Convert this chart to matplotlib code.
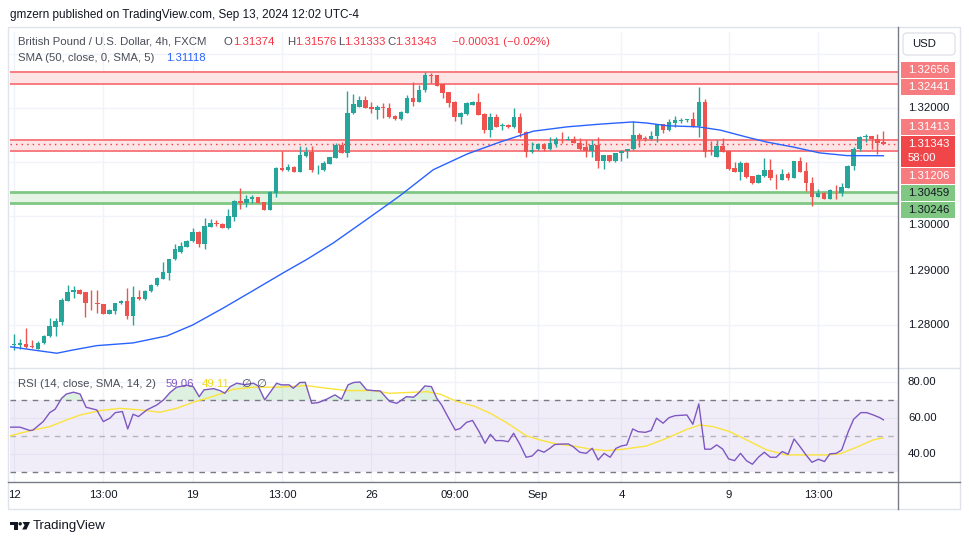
import matplotlib
matplotlib.use('Agg')
import matplotlib.pyplot as plt
from matplotlib.patches import Rectangle, Polygon, Circle, FancyBboxPatch
import numpy as np

plt.rcParams['font.family'] = ['Liberation Sans', 'DejaVu Sans']

# GBP/USD 4h candles, Aug 12 -> Sep 13 2024
opens = [1.2763, 1.2763, 1.2765, 1.2761, 1.2756, 1.2766, 1.2779, 1.2797, 1.2806, 1.2845,
         1.2860, 1.2864, 1.2860, 1.2843, 1.2841, 1.2838, 1.2821, 1.2826, 1.2840, 1.2845,
         1.2817, 1.2852, 1.2847, 1.2862, 1.2874, 1.2885, 1.2896, 1.2921, 1.2934, 1.2944,
         1.2954, 1.2972, 1.2950, 1.2981, 1.2988, 1.2986, 1.2979, 1.2999, 1.3028, 1.3024,
         1.3033, 1.3035, 1.3026, 1.3012, 1.3044, 1.3090, 1.3085, 1.3091, 1.3082, 1.3112,
         1.3119, 1.3087, 1.3086, 1.3097, 1.3108, 1.3132, 1.3117, 1.3190, 1.3202, 1.3214,
         1.3202, 1.3196, 1.3201, 1.3199, 1.3185, 1.3179, 1.3191, 1.3218, 1.3211, 1.3232,
         1.3261, 1.3260, 1.3243, 1.3229, 1.3211, 1.3184, 1.3189, 1.3206, 1.3211, 1.3189,
         1.3159, 1.3184, 1.3167, 1.3168, 1.3164, 1.3184, 1.3156, 1.3118, 1.3124, 1.3133,
         1.3124, 1.3134, 1.3143, 1.3141, 1.3143, 1.3136, 1.3127, 1.3121, 1.3132, 1.3103,
         1.3113, 1.3103, 1.3116, 1.3121, 1.3124, 1.3150, 1.3145, 1.3143, 1.3148, 1.3170,
         1.3159, 1.3173, 1.3176, 1.3178, 1.3179, 1.3167, 1.3211, 1.3122, 1.3110, 1.3130,
         1.3121, 1.3089, 1.3082, 1.3099, 1.3074, 1.3062, 1.3074, 1.3086, 1.3071, 1.3068,
         1.3079, 1.3071, 1.3102, 1.3084, 1.3062, 1.3036, 1.3044, 1.3033, 1.3049, 1.3044,
         1.3053, 1.3092, 1.3124, 1.3147, 1.3148, 1.3142, 1.31374]
highs = [1.2783, 1.2775, 1.2795, 1.2772, 1.2771, 1.2781, 1.2813, 1.2813, 1.2849, 1.2873,
         1.2871, 1.2866, 1.2861, 1.2864, 1.2864, 1.2839, 1.2829, 1.2841, 1.2846, 1.2869,
         1.2872, 1.2864, 1.2864, 1.2875, 1.2889, 1.2916, 1.2922, 1.2949, 1.2953, 1.2956,
         1.2978, 1.2973, 1.2997, 1.2995, 1.2993, 1.2987, 1.3014, 1.3030, 1.3053, 1.3039,
         1.3039, 1.3036, 1.3027, 1.3047, 1.3091, 1.3121, 1.3096, 1.3092, 1.3129, 1.3128,
         1.3129, 1.3095, 1.3102, 1.3110, 1.3135, 1.3138, 1.3231, 1.3225, 1.3221, 1.3222,
         1.3211, 1.3205, 1.3209, 1.3208, 1.3186, 1.3194, 1.3224, 1.3247, 1.3242, 1.3266,
         1.3264, 1.3261, 1.3244, 1.3230, 1.3212, 1.3192, 1.3210, 1.3213, 1.3227, 1.3190,
         1.3191, 1.3188, 1.3173, 1.3170, 1.3199, 1.3191, 1.3157, 1.3138, 1.3136, 1.3135,
         1.3146, 1.3147, 1.3156, 1.3148, 1.3148, 1.3144, 1.3141, 1.3140, 1.3146, 1.3114,
         1.3114, 1.3117, 1.3122, 1.3125, 1.3176, 1.3153, 1.3148, 1.3157, 1.3171, 1.3171,
         1.3179, 1.3185, 1.3182, 1.3180, 1.3192, 1.3238, 1.3216, 1.3139, 1.3141, 1.3144,
         1.3122, 1.3100, 1.3102, 1.3101, 1.3075, 1.3078, 1.3108, 1.3106, 1.3078, 1.3087,
         1.3081, 1.3103, 1.3110, 1.3100, 1.3072, 1.3051, 1.3045, 1.3050, 1.3057, 1.3062,
         1.3095, 1.3127, 1.3148, 1.3152, 1.3149, 1.3152, 1.31576]
lows = [1.2754, 1.2755, 1.2758, 1.2757, 1.2755, 1.2765, 1.2777, 1.2780, 1.2800, 1.2844,
        1.2850, 1.2857, 1.2815, 1.2828, 1.2822, 1.2820, 1.2820, 1.2821, 1.2839, 1.2811,
        1.2800, 1.2846, 1.2846, 1.2861, 1.2872, 1.2884, 1.2883, 1.2920, 1.2933, 1.2943,
        1.2952, 1.2944, 1.2940, 1.2980, 1.2982, 1.2978, 1.2976, 1.2992, 1.3014, 1.3018,
        1.3025, 1.3024, 1.3012, 1.3012, 1.3035, 1.3084, 1.3084, 1.3081, 1.3081, 1.3110,
        1.3082, 1.3078, 1.3084, 1.3096, 1.3107, 1.3116, 1.3110, 1.3189, 1.3201, 1.3199,
        1.3190, 1.3179, 1.3182, 1.3182, 1.3178, 1.3178, 1.3190, 1.3204, 1.3210, 1.3230,
        1.3246, 1.3240, 1.3219, 1.3202, 1.3175, 1.3170, 1.3187, 1.3205, 1.3186, 1.3154,
        1.3147, 1.3164, 1.3159, 1.3162, 1.3162, 1.3146, 1.3110, 1.3116, 1.3122, 1.3121,
        1.3122, 1.3128, 1.3135, 1.3140, 1.3135, 1.3123, 1.3109, 1.3110, 1.3090, 1.3088,
        1.3101, 1.3101, 1.3102, 1.3108, 1.3123, 1.3128, 1.3139, 1.3141, 1.3138, 1.3154,
        1.3158, 1.3165, 1.3172, 1.3174, 1.3165, 1.3147, 1.3110, 1.3113, 1.3109, 1.3118,
        1.3086, 1.3081, 1.3067, 1.3070, 1.3059, 1.3061, 1.3073, 1.3068, 1.3051, 1.3067,
        1.3068, 1.3070, 1.3081, 1.3047, 1.3020, 1.3035, 1.3032, 1.3032, 1.3033, 1.3038,
        1.3052, 1.3086, 1.3120, 1.3138, 1.3124, 1.3115, 1.31333]
closes = [1.2765, 1.2766, 1.2759, 1.2759, 1.2767, 1.2780, 1.2798, 1.2807, 1.2846, 1.2860,
          1.2864, 1.2858, 1.2841, 1.2842, 1.2839, 1.2821, 1.2828, 1.2840, 1.2844, 1.2817,
          1.2851, 1.2847, 1.2863, 1.2874, 1.2886, 1.2898, 1.2922, 1.2940, 1.2946, 1.2955,
          1.2971, 1.2950, 1.2983, 1.2988, 1.2987, 1.2979, 1.3001, 1.3029, 1.3024, 1.3033,
          1.3035, 1.3025, 1.3012, 1.3045, 1.3090, 1.3085, 1.3091, 1.3082, 1.3113, 1.3119,
          1.3086, 1.3088, 1.3098, 1.3109, 1.3132, 1.3117, 1.3191, 1.3207, 1.3214, 1.3200,
          1.3197, 1.3202, 1.3200, 1.3184, 1.3179, 1.3192, 1.3218, 1.3211, 1.3233, 1.3261,
          1.3259, 1.3241, 1.3228, 1.3208, 1.3184, 1.3191, 1.3208, 1.3211, 1.3187, 1.3159,
          1.3183, 1.3165, 1.3168, 1.3164, 1.3184, 1.3154, 1.3118, 1.3122, 1.3133, 1.3124,
          1.3135, 1.3143, 1.3142, 1.3143, 1.3136, 1.3124, 1.3121, 1.3132, 1.3102, 1.3113,
          1.3103, 1.3116, 1.3121, 1.3124, 1.3150, 1.3142, 1.3143, 1.3149, 1.3170, 1.3159,
          1.3174, 1.3178, 1.3177, 1.3179, 1.3167, 1.3211, 1.3119, 1.3121, 1.3130, 1.3119,
          1.3087, 1.3082, 1.3099, 1.3073, 1.3062, 1.3076, 1.3086, 1.3070, 1.3070, 1.3079,
          1.3070, 1.3102, 1.3082, 1.3061, 1.3036, 1.3044, 1.3033, 1.3049, 1.3048, 1.3054,
          1.3093, 1.3124, 1.3146, 1.3148, 1.3142, 1.3136, 1.31343]

# SMA(50) line, read at bar positions
sma_pos = [-0.7, 0, 3.2, 7.2, 9.9, 13.9, 20, 25.7, 30, 35.1, 40.1, 45.2, 49.2, 53.6, 59.3,
           64.8, 70.4, 76.1, 81.6, 87.2, 92.9, 98.4, 103.9, 106.3, 109.7, 114.9, 118.6,
           123.1, 126.4, 130.8, 135.3, 139.9, 146]
sma_val = [1.2760, 1.2759, 1.2754, 1.2748, 1.2754, 1.2762, 1.2767, 1.2780, 1.2800, 1.2831,
           1.2863, 1.2896, 1.2921, 1.2951, 1.2995, 1.3038, 1.3086, 1.3115, 1.3137, 1.3157,
           1.3165, 1.3170, 1.3174, 1.3172, 1.3167, 1.3165, 1.3159, 1.3146, 1.3137, 1.3128,
           1.3117, 1.3112, 1.31118]

# RSI(14) line
rsi_pos = [-0.7, 1.0, 2.7, 3.2, 4.9, 6.0, 6.9, 8.0, 8.8, 10.0,
           11.1, 12.1, 13.9, 15.0, 16.1, 17.0, 18.2, 19.1, 20.0, 20.9,
           22.3, 24.0, 25.1, 26.2, 27.3, 29.0, 30.1, 31.1, 31.9, 33.5,
           34.6, 35.4, 36.3, 37.4, 38.8, 40.2, 41.0, 42.1, 44.1, 44.9,
           46.2, 46.9, 48.0, 48.9, 50.0, 51.1, 52.5, 53.9, 55.0, 56.1,
           57.0, 58.1, 59.2, 60.3, 61.5, 63.1, 64.3, 65.9, 67.1, 67.9,
           69.0, 70.1, 71.0, 71.8, 72.7, 74.1, 74.9, 76.0, 77.0, 78.1,
           79.1, 80.0, 80.9, 82.0, 83.0, 83.9, 85.0, 86.0, 87.0, 88.0,
           89.0, 90.0, 90.8, 92.1, 93.1, 93.9, 95.0, 96.1, 97.1, 98.1,
           99.1, 100.1, 101.1, 102.0, 102.9, 103.9, 104.8, 106.0, 107.0, 107.9,
           109.0, 110.0, 111.0, 113.0, 114.0, 115.0, 116.0, 117.0, 118.0, 119.0,
           120.0, 121.0, 122.0, 123.0, 124.0, 125.0, 126.0, 127.0, 128.0, 129.0,
           130.0, 131.0, 132.0, 133.0, 134.0, 135.1, 136.1, 137.0, 138.1, 139.0,
           140.1, 141.0, 142.2, 143.2, 144.3, 145.4, 146.0]
rsi_val = [55.0, 55.0, 53.1, 53.4, 58.1, 63.1, 65.0, 71.1, 73.5, 74.5,
           73.5, 66.1, 64.6, 58.1, 60.0, 63.1, 63.7, 54.0, 62.2, 60.9,
           64.6, 67.4, 70.2, 74.3, 77.3, 78.4, 77.6, 72.0, 75.8, 76.5,
           75.4, 73.9, 77.6, 79.5, 78.7, 79.5, 78.0, 70.2, 79.5, 78.6,
           78.6, 76.7, 79.9, 80.0, 68.3, 68.7, 70.6, 73.0, 70.6, 78.6,
           79.9, 80.2, 75.8, 75.4, 75.2, 69.3, 68.3, 72.0, 71.7, 73.9,
           78.0, 77.6, 71.1, 67.4, 61.8, 53.4, 54.2, 57.7, 58.7, 52.5,
           46.0, 51.0, 47.5, 47.5, 46.9, 51.6, 45.1, 38.2, 38.9, 42.3,
           41.0, 43.2, 45.3, 45.6, 45.6, 44.1, 41.0, 40.4, 43.2, 36.7,
           40.4, 38.2, 43.2, 44.5, 45.1, 54.0, 52.5, 52.1, 53.1, 60.0,
           57.2, 60.3, 61.4, 61.8, 56.6, 68.0, 42.7, 42.7, 45.1, 42.8,
           37.3, 36.3, 40.4, 36.3, 34.3, 38.2, 41.0, 38.2, 38.2, 41.4,
           39.9, 48.4, 44.1, 39.5, 35.4, 37.1, 35.8, 40.1, 40.4, 42.3,
           52.5, 59.4, 63.1, 63.1, 61.8, 60.3, 59.06]

# RSI-based SMA(14)
rsima_pos = [-0.7, 1.0, 3.2, 6.0, 8.8, 11.1, 14.4, 17.8, 21.2, 24.5, 27.3, 30.1, 32.4,
             34.6, 36.8, 40.2, 43.5, 46.3, 49.1, 52.5, 55.9, 60.3, 63.1, 65.9, 69.3,
             71.5, 74.4, 77.2, 80.0, 82.7, 86.1, 88.3, 91.1, 93.9, 96.7, 99.5, 102.3,
             106.2, 109.6, 113.0, 115.2, 117.4, 120.2, 123.0, 126.4, 129.7, 133.1,
             136.4, 138.7, 141.5, 144.3, 146.0]
rsima_val = [50.1, 51.6, 53.4, 55.3, 59.0, 61.8, 64.2, 65.5, 64.6, 63.3, 65.5, 68.9, 71.1,
             73.5, 76.1, 77.3, 77.3, 77.6, 78.2, 76.7, 75.4, 75.4, 73.9, 74.3, 74.8,
             73.5, 69.3, 66.8, 62.7, 57.5, 50.1, 47.9, 45.6, 44.5, 42.8, 41.9, 42.7,
             44.5, 48.8, 53.8, 56.2, 55.3, 52.5, 47.9, 42.3, 39.5, 39.5,
             39.5, 40.1, 43.8, 47.9, 49.11]

# support / resistance zones
red_zones = [(1.32441, 1.32656), (1.31206, 1.31413)]
green_zones = [(1.30246, 1.30459)]
last_price = 1.31343

tick_pos = [0, 15, 30, 45, 60, 74, 88, 102, 120, 135]
tick_lbl = ['12', '13:00', '19', '13:00', '26', '09:00', 'Sep', '4', '9', '13:00']

UP = '#26A69A'
DN = '#EF5350'
GRID = '#F0F3FA'
TXT = '#131722'
GRAY = '#787B86'

W, H = 970, 545
fig = plt.figure(figsize=(W / 100, H / 100), dpi=100)
fig.patch.set_facecolor('white')

def fr(x0, y0, x1, y1):
    return [x0 / W, 1 - y1 / H, (x1 - x0) / W, (y1 - y0) / H]

ax = fig.add_axes(fr(10, 32, 898, 368))
ax2 = fig.add_axes(fr(10, 368, 898, 482))
for a in (ax, ax2):
    a.set_xlim(-0.672, 148.45)
    for s in a.spines.values():
        s.set_visible(False)
    a.set_xticks(tick_pos)
    a.tick_params(length=0, labelbottom=False, labelleft=False)
    a.grid(True, color=GRID, lw=1)
    a.set_axisbelow(True)

ax.set_ylim(1.27208, 1.33397)
ax.set_yticks([1.28, 1.29, 1.30, 1.31, 1.32, 1.33])

# zones
for lo, hi in red_zones:
    ax.axhspan(lo, hi, color='#FDE4E5', lw=0, zorder=1)
    ax.axhline(lo, color='#F77C80', lw=1.4, zorder=2)
    ax.axhline(hi, color='#F77C80', lw=1.4, zorder=2)
for lo, hi in green_zones:
    ax.axhspan(lo, hi, color='#E5F4E5', lw=0, zorder=1)
    ax.axhline(lo, color='#81C784', lw=2, zorder=2)
    ax.axhline(hi, color='#81C784', lw=2, zorder=2)
ax.axhline(last_price, color='#F23645', lw=1, ls=(0, (1, 3)), zorder=2)

# candles
o = np.array(opens); h = np.array(highs); l = np.array(lows); c = np.array(closes)
x = np.arange(len(c))
col = np.where(c >= o, UP, DN)
ax.vlines(x, l, h, colors=col, lw=1, zorder=3)
body = np.maximum(np.abs(c - o), 0.00012)
mid = (o + c) / 2
ax.bar(x, body, bottom=mid - body / 2, width=0.76, color=col, lw=0, zorder=4)
ax.plot(sma_pos, sma_val, color='#2962FF', lw=1, zorder=5)

# RSI pane
ax2.set_ylim(24.4, 88.0)
ax2.set_yticks([40, 60, 80])
ax2.axhspan(30, 70, color='#7E57C2', alpha=0.1, lw=0, zorder=1)
ax2.axhline(70, color=GRAY, lw=1, ls=(0, (4, 4)), zorder=2)
ax2.axhline(30, color=GRAY, lw=1, ls=(0, (4, 4)), zorder=2)
ax2.axhline(50, color=GRAY, lw=1, ls=(0, (4, 4)), alpha=0.5, zorder=2)
rp = np.array(rsi_pos); rv = np.array(rsi_val)
ax2.fill_between(rp, rv, 70, where=rv > 70, interpolate=True, color='#4CAF50', alpha=0.18, lw=0, zorder=2)
ax2.plot(rsima_pos, rsima_val, color='#FBE33C', lw=1, zorder=3)
ax2.plot(rp, rv, color='#7E57C2', lw=1, zorder=4)

# overlay in pixel coordinates for the frame and all the text
ov = fig.add_axes([0, 0, 1, 1], zorder=10)
ov.set_xlim(0, W); ov.set_ylim(H, 0); ov.axis('off'); ov.patch.set_alpha(0)

def px(a, xv, yv):
    d = a.transData.transform((xv, yv))
    return d[0], H - d[1]

ov.add_patch(Rectangle((8, 27), 952, 482, fill=False, ec='#E0E3EB', lw=1))
ov.plot([8, 960], [368, 368], color='#E0E3EB', lw=1)
ov.plot([8, 960], [482, 482], color=GRAY, lw=1)
ov.plot([898, 898], [27, 509], color=GRAY, lw=1)

fs = 8.2
renderer = fig.canvas.get_renderer()

def seg_text(x0, y0, parts, size=fs):
    for s, cc in parts:
        t = ov.text(x0, y0, s, color=cc, fontsize=size, va='center', ha='left')
        x0 += t.get_window_extent(renderer=renderer).width

ov.text(10, 15, 'gmzern published on TradingView.com, Sep 13, 2024 12:02 UTC-4',
        fontsize=8.5, color=TXT, va='center')
LG = '#4A4D57'
RED = '#F23645'
seg_text(18, 42, [('British Pound / U.S. Dollar, 4h, FXCM', LG)])
seg_text(224, 42, [('O', LG), ('1.31374', RED)])
seg_text(287, 42, [('H', LG), ('1.31576', RED)])
seg_text(338, 42, [('L', LG), ('1.31333', RED)])
seg_text(387, 42, [('C', LG), ('1.31343', RED)])
seg_text(452, 42, [('\u22120.00031 (\u22120.02%)', RED)])
seg_text(18, 58, [('SMA (50, close, 0, SMA, 5)', LG)])
seg_text(166, 58, [('1.31118', '#2962FF')])
seg_text(18, 384, [('RSI (14, close, SMA, 14, 2)', LG)])
seg_text(166, 384, [('59.06', '#7E57C2')])
seg_text(202, 384, [('49.11', '#F2DB1E')])
seg_text(241, 384, [('\u2205', LG)])
seg_text(256, 384, [('\u2205', LG)])

# time axis labels
for p, s in zip(tick_pos, tick_lbl):
    xx, _ = px(ax, p, 1.3)
    ov.text(xx, 495, s, fontsize=fs, color=TXT, ha='center', va='center')

# coloured price tags, pushed apart like TradingView does
tags = []
for lo, hi in red_zones:
    tags.append({'p': hi, 'bg': '#F77C80', 'fg': 'white', 'up': 8, 'dn': 8, 'fix': False})
    tags.append({'p': lo, 'bg': '#F77C80', 'fg': 'white', 'up': 8, 'dn': 8, 'fix': False})
tags.append({'p': last_price, 'bg': '#F0464A', 'fg': 'white', 'up': 8, 'dn': 23, 'fix': True})
for lo, hi in green_zones:
    tags.append({'p': hi, 'bg': '#81C784', 'fg': TXT, 'up': 8, 'dn': 8, 'fix': False})
    tags.append({'p': lo, 'bg': '#81C784', 'fg': TXT, 'up': 8, 'dn': 8, 'fix': False})
for t in tags:
    t['y'] = px(ax, 0, t['p'])[1]
tags.sort(key=lambda t: t['y'])
for _ in range(60):
    for a, b in zip(tags[:-1], tags[1:]):
        over = (a['y'] + a['dn'] + 1) - (b['y'] - b['up'])
        if over > 0:
            if a['fix']:
                b['y'] += over
            elif b['fix']:
                a['y'] -= over
            else:
                a['y'] -= over / 2
                b['y'] += over / 2
tag_bottom = max(t['y'] + t['dn'] for t in tags)

# plain price scale labels (the one under the tags slides just below them)
for p in [1.32, 1.30, 1.29, 1.28]:
    _, yy = px(ax, 0, p)
    if p == 1.30:
        yy = max(yy, tag_bottom + 7)
    ov.text(908, yy, f'{p:.5f}', fontsize=fs, color=TXT, va='center')
for r in [80, 60, 40]:
    _, yy = px(ax2, 0, r)
    ov.text(908, yy, f'{r:.2f}', fontsize=fs, color=TXT, va='center')

ov.add_patch(FancyBboxPatch((903, 33), 52, 22, boxstyle='round,pad=0,rounding_size=4',
                            fc='white', ec='#E0E3EB', lw=1))
ov.text(912, 44, 'USD', fontsize=fs, color=TXT, va='center')

for t in tags:
    ov.add_patch(Rectangle((901, t['y'] - t['up']), 54, t['up'] + t['dn'], fc=t['bg'], lw=0))
    ov.text(908, t['y'], f"{t['p']:.5f}", fontsize=fs, color=t['fg'], va='center')
    if t['fix']:
        ov.text(908, t['y'] + 14, '58:00', fontsize=fs, color=t['fg'], va='center')

# TradingView logo
ov.add_patch(Polygon([(10, 522), (18, 522), (18, 529.5), (14.3, 529.5), (14.3, 525.2), (10, 525.2)],
                     closed=True, fc=TXT, lw=0))
ov.add_patch(Circle((20.2, 523.8), 1.7, fc=TXT, lw=0))
ov.add_patch(Polygon([(22.5, 522), (30, 522), (26.5, 529.5), (22.2, 529.5), (24.6, 525.2)],
                     closed=True, fc=TXT, lw=0))
ov.text(33, 526.5, 'TradingView', fontsize=9.5, color=TXT, va='center')

fig.savefig('out.png', dpi=100, facecolor='white')
